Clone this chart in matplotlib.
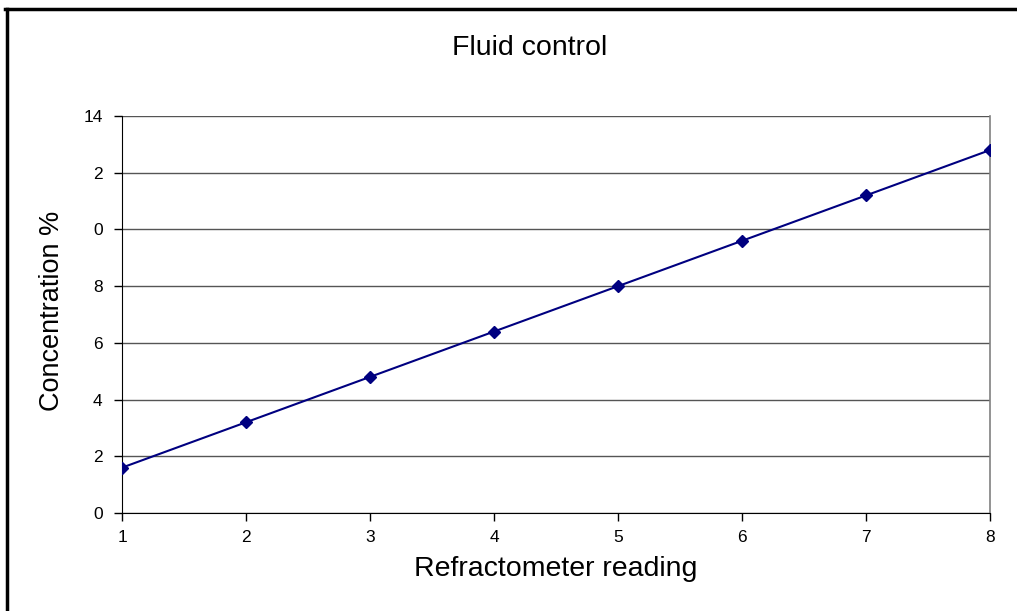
import matplotlib
matplotlib.use("Agg")
import matplotlib.pyplot as plt
from matplotlib.lines import Line2D

plt.rcParams['font.family'] = ['Liberation Sans', 'DejaVu Sans']

# Data
readings = [1, 2, 3, 4, 5, 6, 7, 8]
concentration = [1.6, 3.2, 4.8, 6.4, 8.0, 9.6, 11.2, 12.8]
y_tick_values = [0, 2, 4, 6, 8, 10, 12, 14]
y_tick_labels = ["0", "2", "4", "6", "8", "0", "2", "14"]
x_tick_values = [1, 2, 3, 4, 5, 6, 7, 8]

fig = plt.figure(figsize=(10.17, 6.11), dpi=100)
ax = fig.add_axes([0.12, 0.1604, 0.8535, 0.6497])

ax.plot(readings, concentration, color='#000080', lw=1.5, marker='D',
        markersize=6.5, markerfacecolor='#000080', markeredgecolor='#000080', zorder=3)

ax.set_xlim(1, 8)
ax.set_ylim(0, 14)
ax.set_xticks(x_tick_values)
ax.set_xticklabels([str(v) for v in x_tick_values], fontsize=12.5)
ax.set_yticks(y_tick_values)
ax.set_yticklabels(y_tick_labels, fontsize=12.5)
ax.tick_params(axis='both', direction='out', length=6, width=1, color='black')
ax.tick_params(axis='x', pad=6)
ax.tick_params(axis='y', pad=8)

ax.yaxis.grid(True, color='#555555', lw=1)
ax.set_axisbelow(True)
ax.spines['top'].set_visible(False)
ax.spines['right'].set_color('#808080')
ax.spines['right'].set_linewidth(1.2)
ax.spines['left'].set_color('black')
ax.spines['bottom'].set_color('black')

ax.set_xlabel('Refractometer reading', fontsize=20.5, labelpad=8)
ax.set_ylabel('Concentration %', fontsize=19.5)
ax.yaxis.set_label_coords(-0.066, 0.51)
fig.text(0.521, 0.922, 'Fluid control', fontsize=20.5, ha='center', va='center')

# Figure border (top and left)
fig.add_artist(Line2D([0.005, 1.0], [0.985, 0.985], transform=fig.transFigure,
                      color='black', lw=2.5))
fig.add_artist(Line2D([0.007, 0.007], [0.0, 0.985], transform=fig.transFigure,
                      color='black', lw=2.5))

fig.savefig('out.png', dpi=100)
